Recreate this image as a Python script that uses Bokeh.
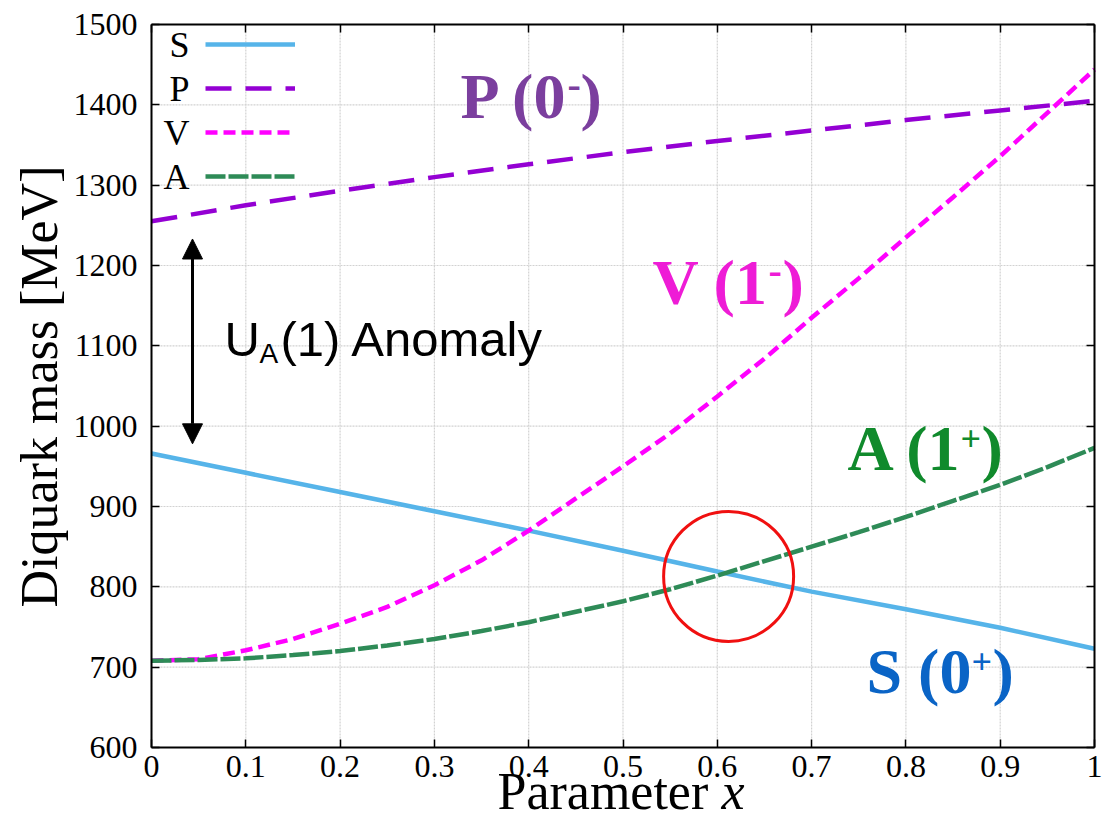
import math
from bokeh.plotting import figure
from bokeh.models import (Range1d, FixedTicker, LinearAxis, Label, Arrow, NormalHead,
                          Legend, LegendItem, CustomJSTickFormatter)
from bokeh.core.properties import value
from bokeh.embed import file_html
from bokeh.resources import INLINE

# ---------------- data ----------------
x_param = [0.0, 0.1, 0.2, 0.3, 0.4, 0.5, 0.6, 0.7, 0.8, 0.9, 1.0]
mass_S = [966, 942, 918, 894, 870, 845, 819, 794, 772, 749, 723]
mass_P = [1255, 1275, 1293, 1310, 1326, 1341, 1355, 1368, 1381, 1393, 1405]

x_fine = [0.0, 0.05, 0.1, 0.15, 0.2, 0.25, 0.3, 0.35, 0.4, 0.45, 0.5, 0.55,
          0.6, 0.65, 0.7, 0.75, 0.8, 0.85, 0.9, 0.95, 1.0]
mass_V = [708, 710, 721, 735, 754, 775, 802, 833, 870, 910, 950, 991,
          1037, 1084, 1135, 1184, 1235, 1285, 1336, 1390, 1444]
mass_A = [708, 709, 711, 715, 720, 727, 735, 745, 756, 769, 782, 797,
          814, 832, 850, 868, 887, 907, 927, 949, 973]

series_names = ["S", "P", "V", "A"]
state_main = ["S (0", "P (0", "V (1", "A (1"]
state_sup = ["+", "-", "-", "+"]
state_tail = [")", ")", ")", ")"]

x_ticks = [0, 0.1, 0.2, 0.3, 0.4, 0.5, 0.6, 0.7, 0.8, 0.9, 1]
x_tick_labels = ["0", "0.1", "0.2", "0.3", "0.4", "0.5", "0.6", "0.7", "0.8", "0.9", "1"]
y_ticks = [600, 700, 800, 900, 1000, 1100, 1200, 1300, 1400, 1500]

highlight_x = 0.612
highlight_y = 813

anomaly_top = 1233
anomaly_bottom = 978

# ---------------- layout helpers (page pixels -> data, for annotations) ----------------
W, H = 1120, 824
FL, FR, FT, FB = 151, 1094, 24, 747      # the visible axes box
X0, X1, Y0, Y1 = 0.0, 1.0, 600.0, 1500.0
PPX = (FR - FL) / (X1 - X0)              # pixels per x unit
PPM = (FB - FT) / (Y1 - Y0)              # pixels per MeV
# the drawing frame covers the whole canvas; the axes box is drawn by fixed axes
XR = (X0 - FL / PPX, X1 + (W - FR) / PPX)
YR = (Y0 - (H - FB) / PPM, Y1 + FT / PPM)


def px_x(px):
    return X0 + (px - FL) / PPX


def px_y(py):
    return Y1 - (py - FT) / PPM


BASE = 0.41  # renderer places alphabetic baseline ~0.41 em lower; compensate


def base_y(py, fs):
    return px_y(py - BASE * fs)


SERIF = "Liberation Serif"
SANS = "Liberation Sans"
C_S, C_P, C_V, C_A = "#56b4e9", "#9400d3", "#ff00ff", "#2e8b57"
GRID_C = "#d2d2d2"

p = figure(width=W, height=H, x_range=Range1d(*XR), y_range=Range1d(*YR),
           output_backend="svg", toolbar_location=None,
           min_border_left=0, min_border_right=0, min_border_top=0, min_border_bottom=0)
p.background_fill_color = "white"
p.border_fill_color = "white"
p.outline_line_color = None
p.xgrid.visible = False
p.ygrid.visible = False

# grid lines limited to the axes box
p.segment(x0=x_ticks, y0=[Y0] * len(x_ticks), x1=x_ticks, y1=[Y1] * len(x_ticks),
          line_color=GRID_C, line_width=1.2, line_dash="2 1", level="underlay")
p.segment(x0=[X0] * len(y_ticks), y0=y_ticks, x1=[X1] * len(y_ticks), y1=y_ticks,
          line_color=GRID_C, line_width=1.2, line_dash="2 1", level="underlay")

p.xaxis.ticker = FixedTicker(ticks=x_ticks)
p.xaxis.major_label_overrides = {t: l for t, l in zip(x_ticks, x_tick_labels)}
p.xaxis.fixed_location = Y0
p.xaxis.bounds = (X0, X1)
p.yaxis.ticker = FixedTicker(ticks=y_ticks)
p.yaxis.fixed_location = X0
p.yaxis.bounds = (Y0, Y1)
for ax in (p.xaxis, p.yaxis):
    ax.axis_line_width = 2
    ax.axis_line_color = "black"
    ax.major_tick_in = 8
    ax.major_tick_out = 0
    ax.major_tick_line_width = 1.5
    ax.major_tick_line_color = "black"
    ax.minor_tick_line_color = None
    ax.major_label_text_font = SERIF
    ax.major_label_text_font_size = "32px"
    ax.major_label_text_color = "black"
p.yaxis.major_label_standoff = 14
p.xaxis.major_label_standoff = 8

top_ax = LinearAxis(ticker=FixedTicker(ticks=x_ticks), fixed_location=Y1, bounds=(X0, X1),
                    formatter=CustomJSTickFormatter(code="return ''"))
right_ax = LinearAxis(ticker=FixedTicker(ticks=y_ticks), fixed_location=X1, bounds=(Y0, Y1),
                      formatter=CustomJSTickFormatter(code="return ''"))
for ax in (top_ax, right_ax):
    ax.axis_line_width = 2
    ax.axis_line_color = "black"
    ax.major_tick_in = 8
    ax.major_tick_out = 0
    ax.major_tick_line_width = 1.5
    ax.minor_tick_line_color = None
    ax.major_label_standoff = 0
p.add_layout(top_ax, "above")
p.add_layout(right_ax, "right")

# curves
rS = p.line(x_param, mass_S, line_color=C_S, line_width=4.5)
rP = p.line(x_param, mass_P, line_color=C_P, line_width=4.5, line_dash="26 14")
rV = p.line(x_fine, mass_V, line_color=C_V, line_width=4.5, line_dash="12 6")
rA = p.line(x_fine, mass_A, line_color=C_A, line_width=4.5, line_dash="20 3")

# legend: glyph samples only, letters to their left
legend = Legend(items=[LegendItem(label=value(""), renderers=[r]) for r in (rS, rP, rV, rA)],
                location=(FL + 54, (H - FT) - 172), glyph_width=90, glyph_height=40,
                label_height=40, spacing=4, padding=0, margin=0, label_standoff=0,
                label_width=0, background_fill_alpha=0, border_line_color=None)
p.add_layout(legend)
for name, yb in zip(series_names, [59, 103, 147, 191]):
    p.add_layout(Label(x=px_x(189), y=base_y(yb, 36), text=name, text_align="right",
                       text_baseline="alphabetic", text_font=SERIF, text_font_size="36px",
                       text_color="black"))

# highlight circle at the S/A crossing
p.scatter(x=[highlight_x], y=[highlight_y], marker="circle", size=130,
          fill_color=None, line_color="#f01010", line_width=3)

# U_A(1) anomaly arrow and text
p.add_layout(Arrow(start=NormalHead(size=20, fill_color="black", line_color="black"),
                   end=NormalHead(size=20, fill_color="black", line_color="black"),
                   x_start=px_x(192), y_start=anomaly_bottom, x_end=px_x(192), y_end=anomaly_top,
                   line_width=3, line_color="black"))
p.add_layout(Label(x=px_x(224), y=base_y(359, 49), text="U", text_font=SANS, text_font_size="49px",
                   text_baseline="alphabetic", text_color="black"))
p.add_layout(Label(x=px_x(259), y=base_y(364, 28), text="A", text_font=SANS, text_font_size="28px",
                   text_baseline="alphabetic", text_color="black"))
p.add_layout(Label(x=px_x(280), y=base_y(359, 49), text="(1) Anomaly", text_font=SANS,
                   text_font_size="49px", text_baseline="alphabetic", text_color="black"))

# state labels (main / superscript / closing parenthesis)
state_colors = ["#0a64c6", "#7b3f9e", "#ee1cd6", "#108a2c"]
state_geom = [(866, 971, 992, 697, 36), (460, 567, 580, 122, 40),
              (652, 768, 782, 308, 40), (847, 960, 981, 474, 36)]
for m, s, t, col, (xm, xs, xt, yb, sfs) in zip(state_main, state_sup, state_tail,
                                               state_colors, state_geom):
    p.add_layout(Label(x=px_x(xm), y=base_y(yb, 64), text=m, text_font=SERIF,
                       text_font_size="64px", text_font_style="bold", text_color=col,
                       text_baseline="alphabetic"))
    p.add_layout(Label(x=px_x(xs), y=base_y(yb - 21, sfs), text=s, text_font=SERIF,
                       text_font_size=f"{sfs}px", text_font_style="bold", text_color=col,
                       text_baseline="alphabetic"))
    p.add_layout(Label(x=px_x(xt), y=base_y(yb, 64), text=t, text_font=SERIF,
                       text_font_size="64px", text_font_style="bold", text_color=col,
                       text_baseline="alphabetic"))

# x-axis title, with italic x
p.add_layout(Label(x=px_x(497), y=base_y(812, 52), text="Parameter", text_font=SERIF,
                   text_font_size="52px", text_baseline="alphabetic", text_color="black"))
p.add_layout(Label(x=px_x(721), y=base_y(812, 52), text="x", text_font=SERIF,
                   text_font_size="52px", text_font_style="italic", text_baseline="alphabetic",
                   text_color="black"))

# y-axis title (rotated; baseline offset acts towards +x after rotation)
p.add_layout(Label(x=(60 - BASE * 52 - FL) / PPX, y=px_y(386), text="Diquark mass [MeV]",
                   angle=math.pi / 2, text_align="center", text_baseline="alphabetic",
                   text_font=SERIF, text_font_size="52px", text_color="black"))

open("out.html", "w").write(file_html(p, INLINE))
